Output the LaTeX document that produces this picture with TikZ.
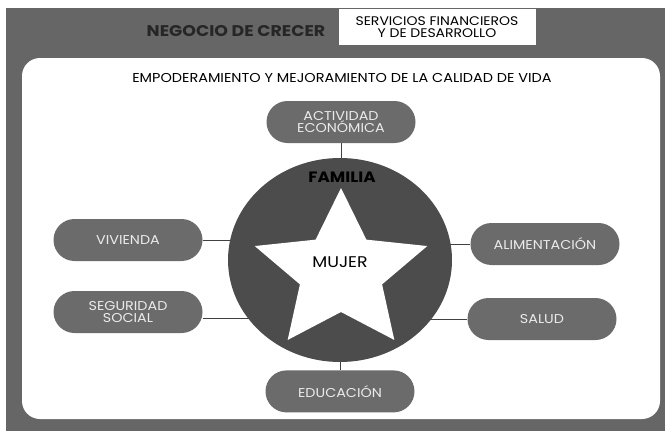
\documentclass[tikz,border=0pt]{standalone}
\usepackage{fontspec}
\setmainfont{Poppins}[FakeStretch=1.12]
\usetikzlibrary{positioning,backgrounds,shapes.geometric,shapes.misc}

\colorlet{bandgray}{black!60}
\colorlet{pillgray}{black!58}
\colorlet{ringgray}{black!70}

\begin{document}
\begin{tikzpicture}[x=1pt,y=1pt,
  pill/.style={rounded rectangle,fill=pillgray,text=white!92!black,align=center,
               minimum width=153pt,minimum height=42pt,inner sep=2pt,
               font=\fontsize{12.8}{12.5}\selectfont},
  link/.style={draw=black!75,line width=0.9pt}
]
\useasboundingbox (0,0) rectangle (665,-431);

% frame and panel
\begin{scope}[on background layer]
\fill[bandgray] (6,-8) rectangle (665,-431);
\fill[white,rounded corners=18pt] (22,-58) rectangle (660,-419);
\end{scope}

% header
\node[font=\bfseries\fontsize{15.5}{17}\selectfont,text=black!85] (neg) at (236,-31) {NEGOCIO DE CRECER};
\node[fill=white,minimum width=197pt,minimum height=36pt,align=center,inner sep=1pt,
      font=\fontsize{12.5}{12}\selectfont] (serv) at (437,-27) {SERVICIOS FINANCIEROS\\Y DE DESARROLLO};
\node[font=\fontsize{12.9}{14}\selectfont] (emp) at (342,-78)
  {EMPODERAMIENTO Y MEJORAMIENTO DE LA CALIDAD DE VIDA};

% ring with the star
\node[ellipse,fill=ringgray,minimum width=224pt,minimum height=204pt,inner sep=0pt] (circ) at (340,-260) {};
\coordinate (starc) at (341,-272);
\begin{scope}[shift={(starc)},xscale=1.08]
\fill[white] (90:84) \foreach \k in {0,...,4} { -- ({126+72*\k}:40) -- ({162+72*\k}:84) } -- cycle;
\end{scope}
\node[font=\bfseries\fontsize{15}{17}\selectfont] (fam) at (342,-177) {FAMILIA};
\node[font=\fontsize{15.5}{17}\selectfont] (mujer) at (340,-262) {MUJER};

% areas
\node[pill] (act) at (341,-122) {ACTIVIDAD\\ECONÓMICA};
\node[pill,below=8pt of circ] (edu) {EDUCACIÓN};
\node[pill] (viv) at (128,-240) {VIVIENDA};
\node[pill] (seg) at (128,-312) {SEGURIDAD\\SOCIAL};
\node[pill] (ali) at (545,-244) {ALIMENTACIÓN};
\node[pill] (sal) at (542,-319) {SALUD};

\begin{scope}[on background layer]
\draw[link] (act.south) -- (act.south |- circ.center);
\draw[link] (edu.north) -- (edu.north |- circ.center);
\draw[link] (viv.east) -- (viv.east -| circ.center);
\draw[link] ([yshift=-6pt]seg.east) -- ([yshift=-6pt]seg.east -| circ.center);
\draw[link] (ali.west) -- (ali.west -| circ.center);
\draw[link] (sal.west) -- (sal.west -| circ.center);
\end{scope}
\end{tikzpicture}
\end{document}
